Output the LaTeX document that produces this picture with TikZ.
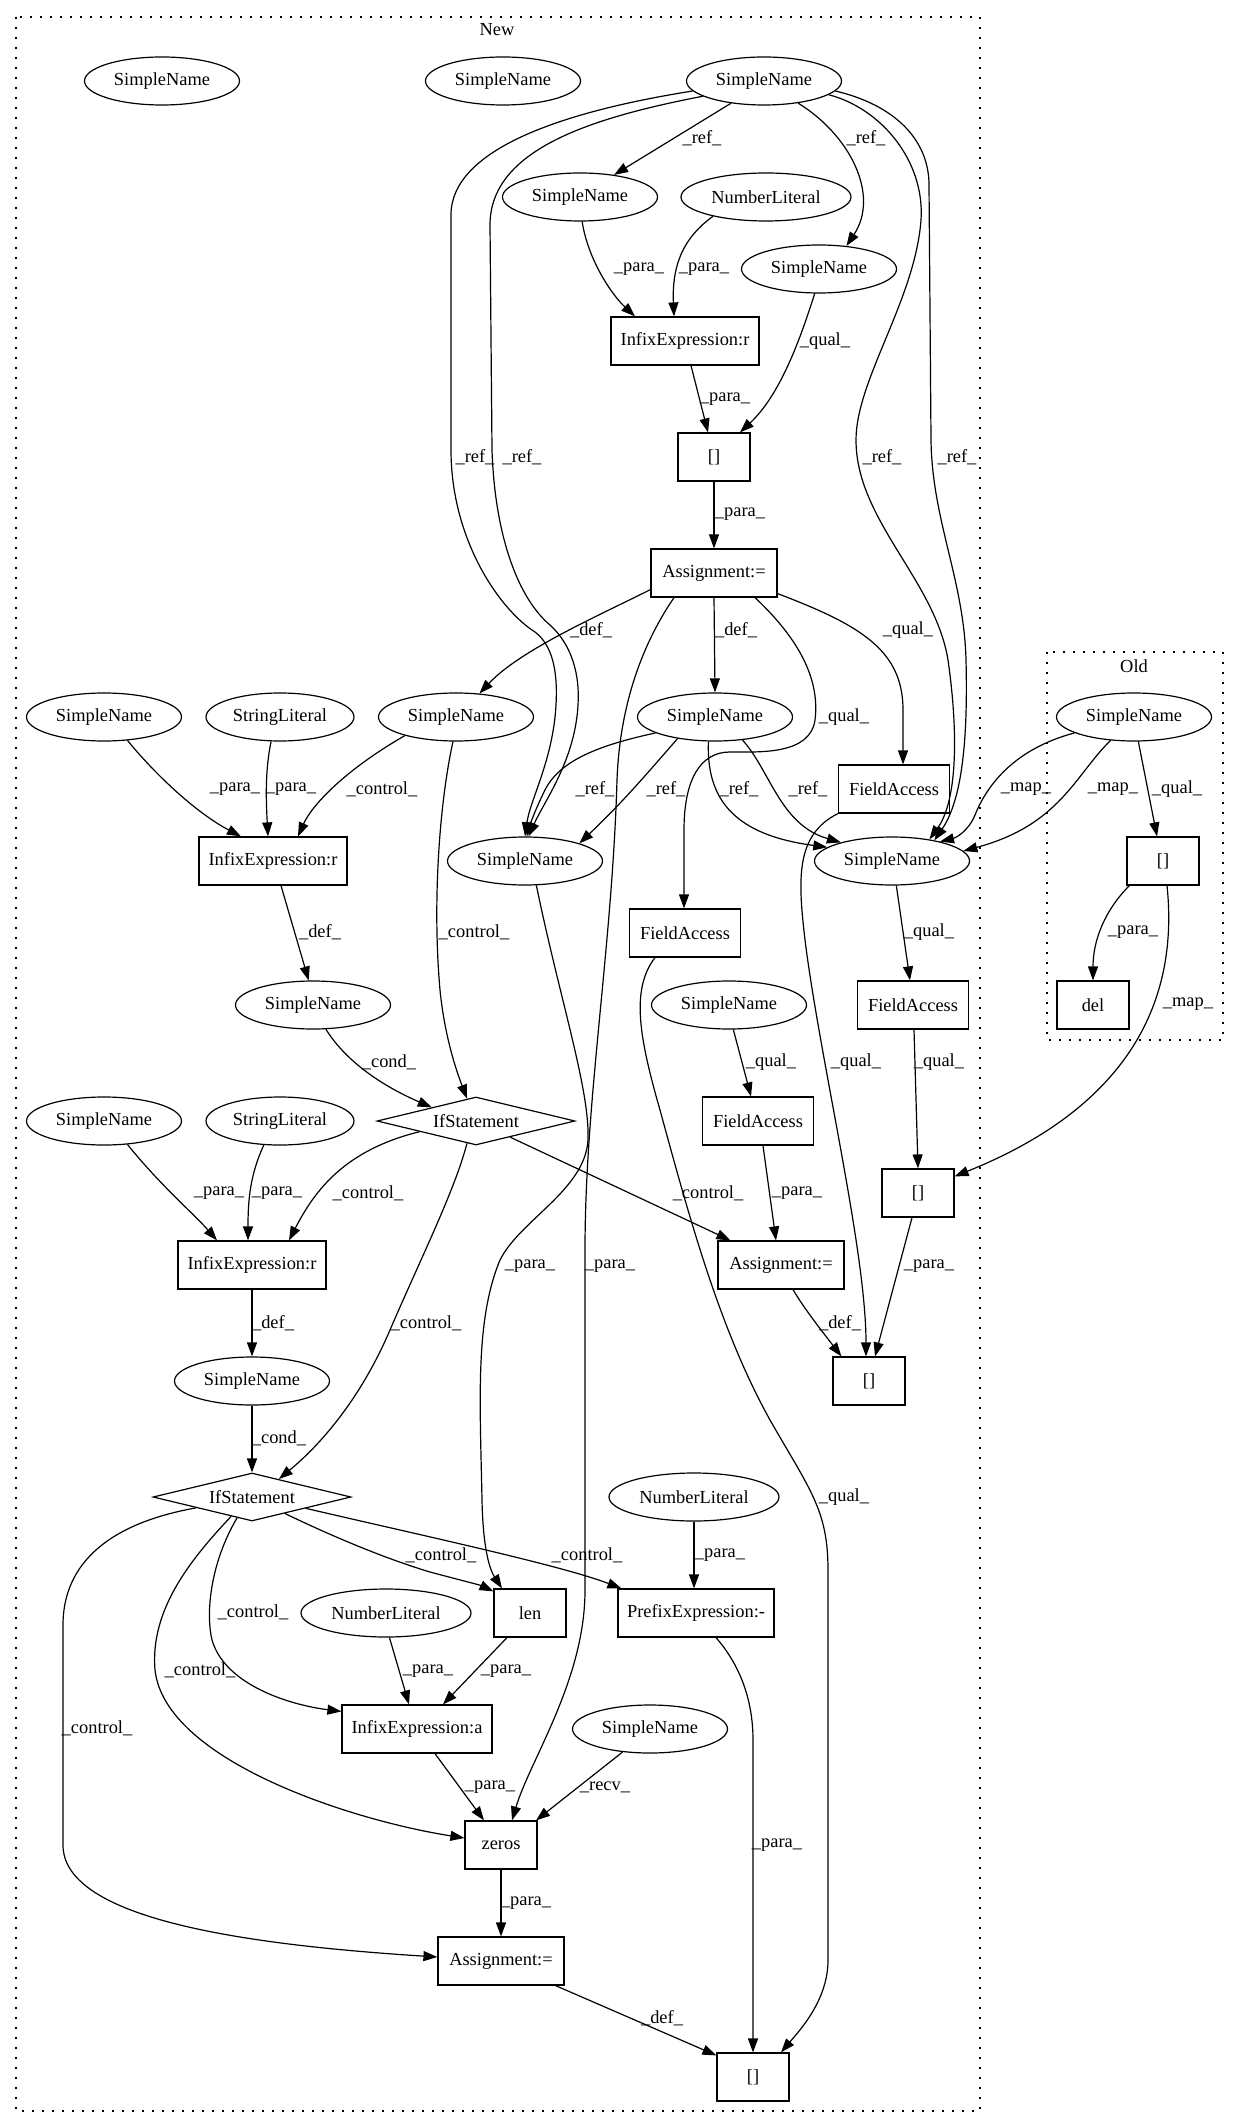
\documentclass[tikz,border=0pt]{standalone}
\usepackage{fontspec}
\setmainfont{Liberation Serif}
\usetikzlibrary{arrows.meta,calc,shapes.geometric}
\begin{document}
\begin{tikzpicture}[x=0.5pt,y=-0.5pt,
  every node/.style={font=\fontsize{9.2pt}{11pt}\selectfont, inner sep=0pt},
  ell/.style={draw, ellipse, minimum width=77.5pt, minimum height=24pt, line width=0.6pt},
  nlit/.style={ell, minimum width=85pt},
  slit/.style={ell, minimum width=74pt},
  box/.style={draw, rectangle, minimum height=24pt, line width=0.6pt},
  dia/.style={draw, diamond, aspect=4, minimum width=99pt, minimum height=24pt, line width=0.6pt},
  edge/.style={draw, line width=0.6pt, -{Triangle[length=7pt,width=5pt]}},
  cluster/.style={draw, line width=0.6pt, dash pattern=on 1pt off 4pt}]
\fill[white] (0,0) rectangle (1239,2128);
\useasboundingbox (0,0) rectangle (1239,2128);
% clusters
\draw[cluster] (16,17) rectangle (980,2111);
\node (newlbl) at (497,30) {New};
\draw[cluster] (1047,652) rectangle (1223,1040);
\node (oldlbl) at (1134,666) {Old};
% nodes
\node[ell] (iso1) at (162,81) {SimpleName};
\node[ell] (iso2) at (503,81) {SimpleName};
\node[ell] (top) at (764,81) {SimpleName};
\node[ell] (r1) at (580,197) {SimpleName};
\node[nlit] (nl1) at (766,197) {NumberLiteral};
\node[ell] (r2) at (819,269) {SimpleName};
\node[box, minimum width=74pt] (ix1) at (685,341) {InfixExpression:r};
\node[box, minimum width=36pt] (br1) at (714,457) {[]};
\node[box, minimum width=63pt] (as1) at (714,573) {Assignment:=};
\node[ell] (snA) at (104,717) {SimpleName};
\node[slit] (sl1) at (280,717) {StringLiteral};
\node[ell] (def1) at (456,717) {SimpleName};
\node[ell] (def2) at (715,717) {SimpleName};
\node[box, minimum width=55.5pt] (fa1) at (894,789) {FieldAccess};
\node[ell] (oldsn) at (1134,717) {SimpleName};
\node[box, minimum width=36pt] (oldbr) at (1163,861) {[]};
\node[box, minimum width=36pt] (del) at (1093,1005) {del};
\node[box, minimum width=74pt] (ix2) at (273,861) {InfixExpression:r};
\node[ell] (refmid) at (525,861) {SimpleName};
\node[ell] (refright) at (892,861) {SimpleName};
\node[box, minimum width=55.5pt] (fa2) at (685,933) {FieldAccess};
\node[ell] (cond1) at (313,1005) {SimpleName};
\node[ell] (qualsn) at (729,1005) {SimpleName};
\node[box, minimum width=55.5pt] (fa3) at (913,1005) {FieldAccess};
\node[dia] (if1) at (476,1121) {IfStatement};
\node[ell] (snB) at (104,1121) {SimpleName};
\node[slit] (sl2) at (280,1121) {StringLiteral};
\node[box, minimum width=55.5pt] (fa4) at (758,1121) {FieldAccess};
\node[box, minimum width=36pt] (br2) at (918,1193) {[]};
\node[box, minimum width=74pt] (ix3) at (252,1265) {InfixExpression:r};
\node[box, minimum width=63pt] (as2) at (781,1265) {Assignment:=};
\node[ell] (cond2) at (252,1381) {SimpleName};
\node[box, minimum width=36pt] (br3) at (869,1381) {[]};
\node[dia] (if2) at (252,1497) {IfStatement};
\node[nlit] (nl2) at (694,1497) {NumberLiteral};
\node[nlit] (nl3) at (386,1613) {NumberLiteral};
\node[box, minimum width=36pt] (len) at (530,1613) {len};
\node[box, minimum width=78pt] (prefix) at (696,1613) {PrefixExpression:-};
\node[box, minimum width=75pt] (ixa) at (417,1729) {InfixExpression:a};
\node[ell] (recv) at (650,1729) {SimpleName};
\node[box, minimum width=36pt] (zeros) at (501,1845) {zeros};
\node[box, minimum width=63pt] (as3) at (501,1961) {Assignment:=};
\node[box, minimum width=36pt] (br4) at (753,2077) {[]};
% edges
\draw[edge] (top.-146) -- (r1.33) node[at={(702,138)}] {\_ref\_};
\draw[edge] (top.-33) .. controls (850,135) and (880,195) .. (r2.40) node[at={(866,138)}] {\_ref\_};
\draw[edge] (top.-172) .. controls (560,112) and (451,150) .. (451,215) -- (451,450) .. controls (451,540) and (500,610) .. (535,632) .. controls (552,645) and (558,670) .. (556,705) .. controls (553,760) and (530,800) .. (refmid.90) node[at={(475,457)}] {\_ref\_};
\draw[edge] (top.-166) .. controls (590,118) and (490,150) .. (490,225) -- (492,450) .. controls (495,540) and (520,600) .. (550,625) .. controls (572,645) and (580,675) .. (578,705) .. controls (575,760) and (545,800) .. (refmid.82) node[at={(522,457)}] {\_ref\_};
\draw[edge] (top.-12) .. controls (880,108) and (925,160) .. (921,220) .. controls (915,300) and (856,380) .. (856,440) .. controls (856,520) and (935,580) .. (948,660) .. controls (958,730) and (958,800) .. (refright.30) node[at={(882,457)}] {\_ref\_};
\draw[edge] (top.-8) .. controls (895,105) and (929,140) .. (929,185) -- (931,440) .. controls (932,520) and (964,580) .. (966,660) .. controls (968,740) and (962,800) .. (refright.26) node[at={(957,457)}] {\_ref\_};
\draw[edge] (r1.-85) .. controls (588,260) and (612,295) .. ($(ix1.north)+(-50,0)$) node[at={(639,269)}] {\_para\_};
\draw[edge] (nl1.-160) .. controls (680,240) and (672,270) .. ($(ix1.north)+(-11,0)$) node[at={(704,269)}] {\_para\_};
\draw[edge] (r2.-100) .. controls (800,340) and (780,395) .. ($(br1.north)+(26,0)$) node[at={(825,341)}] {\_qual\_};
\draw[edge] ($(ix1.south)+(6,0)$) -- ($(br1.north)+(-6,0)$) node[at={(725,399)}] {\_para\_};
\draw[edge] (br1.south) -- (as1.north) node[at={(740,514)}] {\_para\_};
\draw[edge] ($(as1.south west)+(0,-8)$) .. controls (600,615) and (520,650) .. (def1.45) node[at={(591,630)}] {\_def\_};
\draw[edge] (as1.south) -- (def2.north) node[at={(736,630)}] {\_def\_};
\draw[edge] ($(as1.south east)+(0,-4)$) .. controls (860,625) and (903,650) .. (903,710) -- ($(fa1.north)+(9,0)$) node[at={(908,630)}] {\_qual\_};
\draw[edge] ($(as1.south)+(41,0)$) .. controls (800,640) and (820,680) .. (815,720) .. controls (810,755) and (760,752) .. (730,752) .. controls (700,752) and (684,780) .. (684,830) -- ($(fa2.north)+(-1,0)$) node[at={(844,717)}] {\_qual\_};
\draw[edge] ($(as1.south)+(-40,0)$) .. controls (645,640) and (620,700) .. (617,780) .. controls (612,950) and (585,1100) .. (585,1250) -- (585,1590) .. controls (585,1680) and (530,1760) .. ($(zeros.north)+(11,0)$) node[at={(610,1266)}] {\_para\_};
\draw[edge] (def2.-165) .. controls (600,745) and (560,760) .. (545,790) .. controls (535,810) and (530,825) .. (refmid.86) node[at={(595,789)}] {\_ref\_};
\draw[edge] (def2.-150) .. controls (650,770) and (625,800) .. (refmid.18) node[at={(666,789)}] {\_ref\_};
\draw[edge] (def2.-105) .. controls (706,800) and (735,835) .. (refright.168) node[at={(739,789)}] {\_ref\_};
\draw[edge] (def2.-40) .. controls (770,770) and (780,825) .. (refright.160) node[at={(808,789)}] {\_ref\_};
\draw[edge] (oldsn.-165) .. controls (1010,750) and (985,790) .. (975,815) .. controls (968,832) and (955,838) .. (refright.22) node[at={(1026,789)}] {\_map\_};
\draw[edge] (oldsn.-135) .. controls (1075,775) and (1060,825) .. (refright.8) node[at={(1113,789)}] {\_map\_};
\draw[edge] (oldsn.-80) -- ($(oldbr.north)+(-6,0)$) node[at={(1177,789)}] {\_qual\_};
\draw[edge] ($(oldbr.south west)+(3,0)$) .. controls (1105,910) and (1093,940) .. (del.north) node[at={(1133,932)}] {\_para\_};
\draw[edge] ($(oldbr.south)+(4,0)$) .. controls (1180,1010) and (1120,1110) .. ($(br2.north east)+(0,8)$) node[at={(1188,1004)}] {\_map\_};
\draw[edge] (refright.-80) -- ($(fa3.north)+(-3,0)$) node[at={(929,932)}] {\_qual\_};
\draw[edge] ($(fa3.south)+(1,0)$) -- (br2.north) node[at={(939,1062)}] {\_qual\_};
\draw[edge] (fa1.south west) .. controls (795,835) and (798,880) .. (805,940) .. controls (820,1060) and (866,1250) .. ($(br3.north)+(-3,0)$) node[at={(856,1062)}] {\_qual\_};
\draw[edge] ($(br2.south)+(-6,0)$) -- ($(br3.north)+(6,0)$) node[at={(929,1266)}] {\_para\_};
\draw[edge] ($(as2.south)+(12,0)$) .. controls (805,1310) and (825,1335) .. ($(br3.north west)+(9,0)$) node[at={(840,1323)}] {\_def\_};
\draw[edge] ($(fa4.south)+(5,0)$) -- ($(as2.north)+(-5,0)$) node[at={(797,1193)}] {\_para\_};
\draw[edge] (qualsn.-80) -- ($(fa4.north)+(-7,0)$) node[at={(771,1062)}] {\_qual\_};
\draw[edge] ($(fa2.south)+(-30,0)$) .. controls (630,990) and (640,1040) .. (660,1110) .. controls (690,1220) and (720,1330) .. (770,1420) .. controls (810,1490) and (828,1510) .. (828,1570) -- (828,1960) .. controls (828,2000) and (800,2030) .. ($(br4.north)+(28,0)$) node[at={(844,1497)}] {\_qual\_};
\draw[edge] (refmid.-65) .. controls (560,1000) and (590,1090) .. (588,1140) .. controls (585,1190) and (520,1220) .. (500,1260) .. controls (475,1320) and (480,1400) .. (482,1500) .. controls (483,1550) and (490,1570) .. ($(len.north)+(-28,0)$) node[at={(530,1266)}] {\_para\_};
\draw[edge] (def1.-160) .. controls (345,770) and (312,805) .. ($(ix2.north)+(25,0)$) node[at={(382,789)}] {\_control\_};
\draw[edge] (def1.-97) .. controls (440,800) and (432,900) .. (440,990) .. controls (445,1040) and (458,1075) .. ($(if1.west)!0.91!(if1.north)$) node[at={(474,932)}] {\_control\_};
\draw[edge] (snA.-45) .. controls (160,780) and (200,815) .. ($(ix2.north)+(-32,0)$) node[at={(235,789)}] {\_para\_};
\draw[edge] (sl1.-110) .. controls (265,770) and (266,800) .. ($(ix2.north)+(-5,0)$) node[at={(291,789)}] {\_para\_};
\draw[edge] ($(ix2.south)+(8,0)$) -- (cond1.100) node[at={(320,932)}] {\_def\_};
\draw[edge] (cond1.-62) .. controls (345,1060) and (380,1085) .. ($(if1.west)!0.556!(if1.north)$) node[at={(389,1062)}] {\_cond\_};
\draw[edge] (snB.-45) .. controls (160,1185) and (195,1215) .. ($(ix3.north)+(-35,0)$) node[at={(219,1193)}] {\_para\_};
\draw[edge] (sl2.-124) .. controls (250,1175) and (248,1200) .. ($(ix3.north)+(-4,0)$) node[at={(277,1193)}] {\_para\_};
\draw[edge] ($(if1.west)!0.434!(if1.south)$) .. controls (345,1150) and (315,1190) .. ($(ix3.north)+(37,0)$) node[at={(368,1193)}] {\_control\_};
\draw[edge] ($(if1.west)!0.909!(if1.south)$) .. controls (455,1190) and (420,1260) .. (390,1330) .. controls (360,1400) and (320,1445) .. ($(if2.north)!0.27!(if2.east)$) node[at={(426,1323)}] {\_control\_};
\draw[edge] ($(if1.south)!0.343!(if1.east)$) -- ($(as2.north west)+(13,0)$) node[at={(708,1193)}] {\_control\_};
\draw[edge] (ix3.south) -- (cond2.north) node[at={(273,1323)}] {\_def\_};
\draw[edge] (cond2.south) -- (if2.north) node[at={(279,1438)}] {\_cond\_};
\draw[edge] ($(if2.south)!0.33!(if2.east)$) .. controls (340,1540) and (390,1560) .. (430,1572) .. controls (460,1580) and (480,1585) .. ($(len.north west)+(0,3)$) node[at={(441,1555)}] {\_control\_};
\draw[edge] ($(if2.south)!0.54!(if2.east)$) .. controls (420,1535) and (560,1565) .. ($(prefix.north west)+(4,0)$) node[at={(587,1555)}] {\_control\_};
\draw[edge] ($(if2.west)!0.85!(if2.south)$) .. controls (212,1560) and (205,1610) .. (212,1640) .. controls (225,1685) and (290,1705) .. ($(ixa.north west)+(0,7)$) node[at={(253,1612)}] {\_control\_};
\draw[edge] ($(if2.west)!0.79!(if2.south)$) .. controls (190,1560) and (150,1610) .. (155,1670) .. controls (165,1760) and (350,1820) .. ($(zeros.west)+(0,-7)$) node[at={(200,1670)}] {\_control\_};
\draw[edge] ($(if2.west)!0.44!(if2.south)$) .. controls (100,1525) and (63,1570) .. (63,1625) -- (63,1845) .. controls (63,1920) and (250,1945) .. ($(as3.west)+(0,-4)$) node[at={(97,1728)}] {\_control\_};
\draw[edge] (nl3.-82) -- ($(ixa.north)+(-8,0)$) node[at={(428,1671)}] {\_para\_};
\draw[edge] ($(len.south)+(-23,0)$) -- ($(ixa.north)+(26,0)$) node[at={(506,1671)}] {\_para\_};
\draw[edge] ($(ixa.south)+(18,0)$) -- ($(zeros.north)+(-17,0)$) node[at={(490,1787)}] {\_para\_};
\draw[edge] (recv.-140) -- ($(zeros.north)+(35,0)$) node[at={(605,1787)}] {\_recv\_};
\draw[edge] (zeros.south) -- (as3.north) node[at={(526,1903)}] {\_para\_};
\draw[edge] ($(as3.south east)+(-9,0)$) -- ($(br4.north west)+(0,3)$) node[at={(662,2018)}] {\_def\_};
\draw[edge] (nl2.south) -- ($(prefix.north)+(-2,0)$) node[at={(720,1555)}] {\_para\_};
\draw[edge] ($(prefix.south)+(20,0)$) .. controls (740,1665) and (753,1700) .. (753,1740) -- (br4.north) node[at={(777,1845)}] {\_para\_};
\end{tikzpicture}
\end{document}
